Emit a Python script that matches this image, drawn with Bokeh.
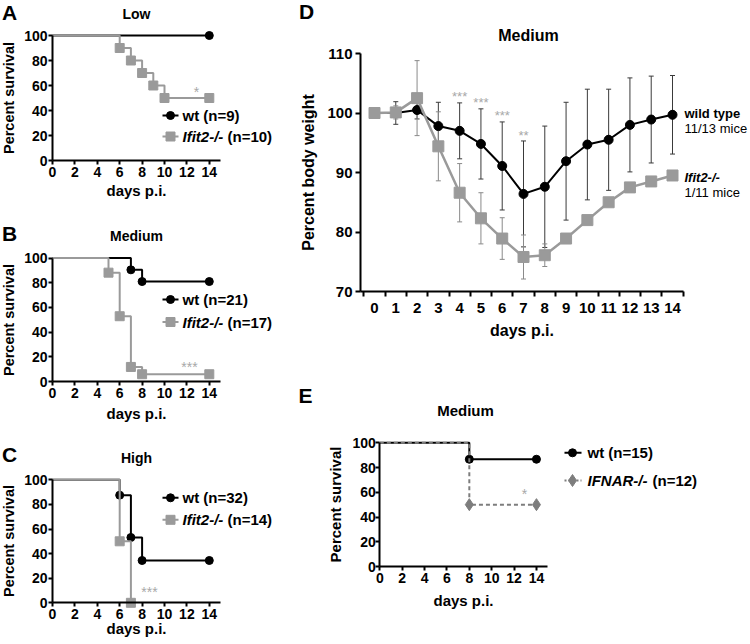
from bokeh.plotting import figure
from bokeh.layouts import row, column
from bokeh.models import FixedTicker, Label, Whisker, TeeHead, ColumnDataSource, Range1d
from bokeh.embed import file_html
from bokeh.resources import INLINE

FONT = "Liberation Sans"
GRAY = "#9a9a9a"
EGRAY = "#7d7d7d"
STAR = "#a8a8a8"

# ---------------- data ----------------
surv_x_ticks = [0, 2, 4, 6, 8, 10, 12, 14]
surv_y_ticks = [0, 20, 40, 60, 80, 100]

low_wt_days = [0, 14]
low_wt_surv = [100, 100]
low_ko_days = [0, 6, 7, 8, 9, 10, 14]
low_ko_surv = [100, 90, 80, 70, 60, 50, 50]

med_wt_days = [0, 7, 8, 14]
med_wt_surv = [100, 90.5, 81.0, 81.0]
med_ko_days = [0, 5, 6, 7, 8, 14]
med_ko_surv = [100, 88.2, 52.9, 11.8, 5.9, 5.9]

high_wt_days = [0, 6, 7, 8, 14]
high_wt_surv = [100, 87.5, 53.1, 34.4, 34.4]
high_ko_days = [0, 6, 7]
high_ko_surv = [100, 50, 0]

ifnar_wt_days = [0, 8, 14]
ifnar_wt_surv = [100, 86.7, 86.7]
ifnar_ko_days = [0, 8, 14]
ifnar_ko_surv = [100, 50, 50]

weight_days = list(range(15))
weight_y_ticks = [70, 80, 90, 100, 110]
wt_weight = [100, 100, 100.5, 97.8, 97.0, 94.8, 91.1, 86.4, 87.6, 91.9, 94.7, 95.5, 98.0, 98.9, 99.7]
wt_sd = [0, 1.9, 1.5, 4.0, 4.7, 5.9, 7.4, 8.9, 10.2, 9.9, 9.3, 8.5, 7.9, 7.3, 6.6]
ko_weight = [100, 100.1, 102.5, 94.4, 86.6, 82.3, 78.9, 75.8, 76.1, 78.9, 82.0, 85.0, 87.5, 88.5, 89.5]
ko_sd = [0, 1.1, 6.3, 5.8, 4.9, 4.3, 3.5, 3.7, 1.9, 0, 0, 0, 0, 0, 0]
weight_star_days = [4, 5, 6, 7]
weight_star_text = ["***", "***", "***", "**"]


def lab(p, x, y, text, size, style="bold", color="black", align="left", x_offset=0):
    p.add_layout(Label(x=x, y=y, text=text, text_font=FONT, text_font_size=size,
                       text_font_style=style, text_color=color, text_align=align,
                       text_baseline="middle", x_offset=x_offset))


def style_axis(ax, tick_fs, label_fs, tick_out, label_standoff, axis_label_standoff):
    ax.axis_line_width = 2
    ax.axis_line_color = "black"
    ax.major_tick_line_width = 2
    ax.major_tick_line_color = "black"
    ax.major_tick_in = 0
    ax.major_tick_out = tick_out
    ax.minor_tick_line_color = None
    ax.major_label_text_font = FONT
    ax.major_label_text_font_style = "bold"
    ax.major_label_text_font_size = tick_fs
    ax.major_label_text_color = "black"
    ax.major_label_standoff = label_standoff
    ax.axis_label_text_font = FONT
    ax.axis_label_text_font_style = "bold"
    ax.axis_label_text_font_size = label_fs
    ax.axis_label_text_color = "black"
    ax.axis_label_standoff = axis_label_standoff


def panel(width, height, left_page, top_page, x0_page, kx, xv0, y0_page, ky, yv0):
    """Figure whose frame covers the whole canvas; gx/gy map page pixels to data."""
    def gx(px):
        return xv0 + (px - x0_page) / kx

    def gy(py):
        return yv0 + (y0_page - py) / ky

    p = figure(width=width, height=height,
               x_range=Range1d(gx(left_page), gx(left_page + width)),
               y_range=Range1d(gy(top_page + height), gy(top_page)),
               min_border_left=0, min_border_right=0, min_border_top=0, min_border_bottom=0,
               toolbar_location=None, output_backend="svg", title_location=None)
    p.grid.visible = False
    p.outline_line_color = None
    p.background_fill_color = "white"
    p.border_fill_color = "white"
    return p, gx, gy


def surv_setup(p, xlab_standoff=2):
    p.xaxis.fixed_location = 0
    p.yaxis.fixed_location = 0
    p.xaxis.bounds = (0, 15)
    p.yaxis.bounds = (0, 100)
    p.xaxis.ticker = FixedTicker(ticks=surv_x_ticks)
    p.yaxis.ticker = FixedTicker(ticks=surv_y_ticks)
    style_axis(p.xaxis[0], "14px", "15px", 4, 2, xlab_standoff)
    style_axis(p.yaxis[0], "14px", "14.5px", 4, 1, 4)
    p.xaxis.axis_label = "days p.i."
    p.yaxis.axis_label = "Percent survival"


def km(p, days, surv, color, marker, size, dash="solid"):
    p.step(days, surv, mode="after", line_color=color, line_width=2, line_dash=dash)
    p.scatter(days[1:], surv[1:], marker=marker, size=size, color=color)


def legend_item(p, gx, gy, py, color, marker, size, parts, dash="solid",
                mx=170, seg=(162, 178), tx=182, fs="15px"):
    p.segment(x0=[gx(seg[0])], y0=[gy(py)], x1=[gx(seg[1])], y1=[gy(py)],
              line_color=color, line_width=2, line_dash=dash)
    p.scatter([gx(mx)], [gy(py)], marker=marker, size=size, color=color)
    off = 0
    for text, style, w in parts:
        lab(p, gx(tx), gy(py), text, fs, style=style, x_offset=off)
        off += w


# ---------------- panel A ----------------
pA, gxA, gyA = panel(280, 205, 0, 0, 52, 11.2, 0, 160, 1.25, 0)
surv_setup(pA, 2)
km(pA, low_wt_days, low_wt_surv, "black", "circle", 8)
km(pA, low_ko_days, low_ko_surv, GRAY, "square", 9)
lab(pA, gxA(136), gyA(13), "Low", "14px", align="center")
lab(pA, gxA(9), gyA(12), "A", "21px", align="center")
lab(pA, gxA(196), gyA(91), "*", "14px", style="normal", color=STAR, align="center")
legend_item(pA, gxA, gyA, 115, "black", "circle", 8, [("wt (n=9)", "bold", 0)])
legend_item(pA, gxA, gyA, 136, GRAY, "square", 9,
            [("Ifit2-/-", "bold italic", 45), ("(n=10)", "bold", 0)])

# ---------------- panel B ----------------
pB, gxB, gyB = panel(280, 220, 0, 205, 52, 11.2, 0, 381, 1.234, 0)
surv_setup(pB, 4)
km(pB, med_wt_days, med_wt_surv, "black", "circle", 8)
km(pB, med_ko_days, med_ko_surv, GRAY, "square", 9)
lab(pB, gxB(136), gyB(235.5), "Medium", "14px", align="center")
lab(pB, gxB(9), gyB(232.5), "B", "21px", align="center")
lab(pB, gxB(189), gyB(366), "***", "14px", style="normal", color=STAR, align="center")
legend_item(pB, gxB, gyB, 299, "black", "circle", 8, [("wt (n=21)", "bold", 0)])
legend_item(pB, gxB, gyB, 321.5, GRAY, "square", 9,
            [("Ifit2-/-", "bold italic", 45), ("(n=17)", "bold", 0)])

# ---------------- panel C ----------------
pC, gxC, gyC = panel(280, 219, 0, 425, 52, 11.2, 0, 602.3, 1.23, 0)
surv_setup(pC, -2)
km(pC, high_wt_days, high_wt_surv, "black", "circle", 8)
km(pC, high_ko_days, high_ko_surv, GRAY, "square", 9)
lab(pC, gxC(136), gyC(457), "High", "14px", align="center")
lab(pC, gxC(9), gyC(453.5), "C", "21px", align="center")
lab(pC, gxC(149), gyC(591), "***", "14px", style="normal", color=STAR, align="center")
legend_item(pC, gxC, gyC, 497.3, "black", "circle", 8, [("wt (n=32)", "bold", 0)])
legend_item(pC, gxC, gyC, 519.3, GRAY, "square", 9,
            [("Ifit2-/-", "bold italic", 45), ("(n=14)", "bold", 0)])

# ---------------- panel D ----------------
pD, gxD, gyD = panel(470, 385, 280, 0, 374, 21.286, 0, 291, 5.95, 70)
pD.xaxis.fixed_location = 70
pD.yaxis.fixed_location = gxD(360)
pD.xaxis.bounds = (gxD(360), gxD(683))
pD.yaxis.bounds = (70, 110)
pD.xaxis.ticker = FixedTicker(ticks=weight_days,
                              minor_ticks=[d - 0.5 for d in weight_days] + [14.5])
pD.yaxis.ticker = FixedTicker(ticks=weight_y_ticks)
style_axis(pD.xaxis[0], "15px", "16px", 0, 6, 6)
style_axis(pD.yaxis[0], "15px", "16px", 5, 3, 7)
pD.xaxis.minor_tick_line_color = "black"
pD.xaxis.minor_tick_line_width = 2
pD.xaxis.minor_tick_out = 5
pD.xaxis.minor_tick_in = 0
pD.xaxis.axis_label = "days p.i."
pD.yaxis.axis_label = "Percent body weight"

srcD = ColumnDataSource(dict(
    day=weight_days,
    wt=wt_weight,
    ko=ko_weight,
    wt_up=[m + s for m, s in zip(wt_weight, wt_sd)],
    wt_lo=[m - s for m, s in zip(wt_weight, wt_sd)],
    ko_up=[m + s for m, s in zip(ko_weight, ko_sd)],
    ko_lo=[m - s for m, s in zip(ko_weight, ko_sd)],
))
for up, lo, col in (("wt_up", "wt_lo", "#3a3a3a"), ("ko_up", "ko_lo", "#8a8a8a")):
    w = Whisker(base="day", upper=up, lower=lo, source=srcD, line_color=col, line_width=1,
                upper_head=TeeHead(size=5, line_color=col, line_width=1),
                lower_head=TeeHead(size=5, line_color=col, line_width=1), level="underlay")
    pD.add_layout(w)
pD.line("day", "wt", source=srcD, line_color="black", line_width=2)
pD.scatter("day", "wt", source=srcD, marker="circle", size=9, color="black")
pD.line("day", "ko", source=srcD, line_color=GRAY, line_width=2.5)
pD.scatter("day", "ko", source=srcD, marker="square", size=11, color=GRAY)

wt_top = dict(zip(weight_days, [m + s for m, s in zip(wt_weight, wt_sd)]))
for d, t in zip(weight_star_days, weight_star_text):
    lab(pD, d, wt_top[d] + 1.0, t, "13px", style="normal", color=STAR, align="center")

lab(pD, gxD(528), gyD(35), "Medium", "16px", align="center")
lab(pD, gxD(306), gyD(10.5), "D", "21px", align="center")
lab(pD, gxD(684), gyD(112.5), "wild type", "13px")
lab(pD, gxD(684), gyD(128), "11/13 mice", "13px", style="normal")
lab(pD, gxD(684), gyD(176.5), "Ifit2-/-", "13px", style="bold italic")
lab(pD, gxD(684), gyD(192), "1/11 mice", "13px", style="normal")

# ---------------- panel E ----------------
pE, gxE, gyE = panel(470, 259, 280, 385, 379.3, 11.19, 0, 566, 1.237, 0)
pE.xaxis.fixed_location = 0
pE.yaxis.fixed_location = 0
pE.xaxis.bounds = (0, 15)
pE.yaxis.bounds = (0, 100)
pE.xaxis.ticker = FixedTicker(ticks=surv_x_ticks)
pE.yaxis.ticker = FixedTicker(ticks=surv_y_ticks)
style_axis(pE.xaxis[0], "14px", "15px", 4, 2, 6)
style_axis(pE.yaxis[0], "14px", "15px", 4, 0, 5)
pE.xaxis.axis_label = "days p.i."
pE.yaxis.axis_label = "Percent survival"

km(pE, ifnar_wt_days, ifnar_wt_surv, "black", "circle", 8)
km(pE, ifnar_ko_days, ifnar_ko_surv, EGRAY, "diamond", 12, dash="4 3")
lab(pE, gxE(465), gyE(409.5), "Medium", "15px", align="center")
lab(pE, gxE(305), gyE(394.5), "E", "21px", align="center")
lab(pE, gxE(524), gyE(493), "*", "14px", style="normal", color=STAR, align="center")
legend_item(pE, gxE, gyE, 452.3, "black", "circle", 8, [("wt (n=15)", "bold", 0)],
            mx=572, seg=(564, 581), tx=587)
legend_item(pE, gxE, gyE, 480, EGRAY, "diamond", 12,
            [("IFNAR-/-", "bold italic", 65), ("(n=12)", "bold", 0)], dash="2 2",
            mx=572, seg=(564, 581), tx=587)

layout = row(column(pA, pB, pC), column(pD, pE))
open("out.html", "w").write(file_html(layout, INLINE))
